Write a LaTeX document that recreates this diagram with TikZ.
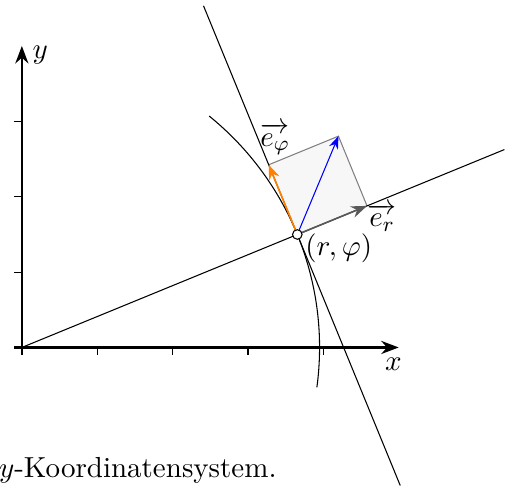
\documentclass[tikz,border=0pt,11pt]{standalone}
\usepackage{amsmath}
\usepackage{amssymb}
\usepackage{xcolor}
\usepackage{tikz}
\usetikzlibrary{arrows.meta, calc}

\begin{document}
\begin{tikzpicture}
			\useasboundingbox (-0.29, -1.86) rectangle (6.45, 4.61);
			\pgfmathsetmacro{\myR}{3.95}
			\pgfmathsetmacro{\myPhi}{22.3}
			% Coordinates:
			\coordinate (O) at (0, 0);
			\coordinate (X0) at (-0.1, 0);
			\coordinate (X1) at (5, 0);
			\coordinate (Y0) at (0, -0.1);
			\coordinate (Y1) at (0, 4);
			\coordinate (P) at (\myPhi:\myR);
			\coordinate (R) at (\myPhi:6.92);
			\coordinate (T1) at ($(P)+(\myPhi+90:3.28)$);
			\coordinate (T2) at ($(P)+(\myPhi-90:3.6)$);
			\coordinate (A1) at (\myPhi-30:\myR);
			\coordinate (Er) at ($(P)+(\myPhi:1)$);
			\coordinate (Ephi) at ($(P)+(\myPhi+90:1)$);
			\coordinate (S) at ($(Er)+(\myPhi+90:1)$);
			% Square of the unit vectors:
			\fill[gray!6] (P) -- (Er) -- (S) -- (Ephi) -- cycle;
			\draw[gray] (Ephi) -- (S) -- (Er);
			% Axes and ticks:
			\draw[thick, -Stealth] (X0) -- (X1) node[below, xshift=-2pt](XL){$x$};
			\draw[thick, -Stealth] (Y0) -- (Y1) node[right, yshift=-0.12cm](YL){$y$};
			\foreach \i in {1,...,4} \draw (\i, 0) -- (\i, -0.1);
			\foreach \i in {1,...,3} \draw (0, \i) -- (-0.1, \i);
			% Lines:
			\draw (O) -- (R);
			\draw (T1) -- (T2);
			\draw (A1) arc[start angle=\myPhi-30, end angle=51, radius=\myR];
			% Vectors:
			\draw[semithick, black!65, -{Stealth[length=6pt]}] (P) -- (Er);
			\draw[semithick, orange, -{Stealth[length=5.5pt]}] (P) -- (Ephi);
			\draw[blue, -Stealth] (P) -- (S);
			\node[circle, draw, fill=white, inner sep=0pt, minimum size=3.6pt](N1) at (P){};
			\node[above, xshift=2.4pt](N2) at (Ephi){$\overrightarrow{e_\varphi}$};
			\node[anchor=north west, inner sep=0pt, yshift=1pt](N3) at (Er){$\overrightarrow{e_r}$};
			\node[anchor=north west, inner sep=0pt](N4) at ($(P)+(0.1,0.02)$){$(r,\varphi)$};
			\node[anchor=base west, inner sep=0pt](N5) at (-0.31, -1.728){$y$-Koordinatensystem.};
		\end{tikzpicture}
\end{document}
